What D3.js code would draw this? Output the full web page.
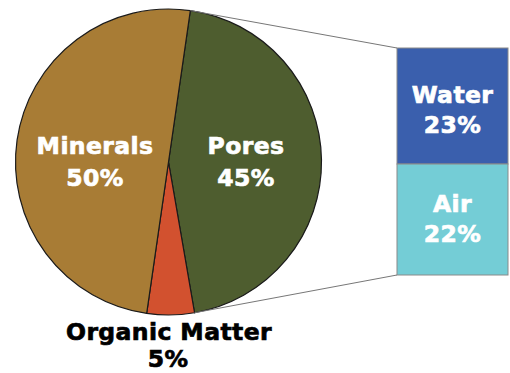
<!DOCTYPE html>
<html>
<head>
<meta charset="utf-8">
<script src="https://cdn.jsdelivr.net/npm/d3@7"></script>
<style>
  html, body { margin: 0; padding: 0; background: #fff; }
  svg { display: block; }
  text { font-family: "DejaVu Sans", sans-serif; font-weight: bold; }
</style>
</head>
<body>
<svg id="chart" width="510" height="373"></svg>
<script>
// Soil composition: pie of the main parts, with the pore space broken down in a stacked bar
const pieLabels = ["Pores", "Organic Matter", "Minerals"];
const pieValues = [45, 5, 50];
const pieColors = ["#4e5d2f", "#d2512f", "#a87c35"];

const barLabels = ["Water", "Air"];
const barValues = [23, 22];
const barColors = ["#3a5fad", "#74cdd6"];

const svg = d3.select("#chart");
const cx = 168.5, cy = 162, r = 153;
const start = 8.2 * Math.PI / 180;

const pie = d3.pie().sort(null).value(d => d.v)
  .startAngle(start).endAngle(start + 2 * Math.PI);
const arcs = pie(pieLabels.map((l, i) => ({ l, v: pieValues[i], c: pieColors[i] })));
const arc = d3.arc().innerRadius(0).outerRadius(r);

const g = svg.append("g").attr("transform", `translate(${cx},${cy})`);
g.selectAll("path").data(arcs).enter().append("path")
  .attr("d", arc)
  .attr("fill", d => d.data.c)
  .attr("stroke", "#1a1a1a")
  .attr("stroke-width", 1.2);

// Stacked bar for the pore breakdown
const barX = 397, barW = 111;
const y = d3.scaleLinear().domain([0, d3.sum(barValues)]).range([48, 275]);
let acc = 0;
const stack = barValues.map((v, i) => {
  const s = { l: barLabels[i], v, c: barColors[i], y0: acc, y1: acc + v };
  acc += v;
  return s;
});
svg.selectAll("rect.seg").data(stack).enter().append("rect")
  .attr("class", "seg")
  .attr("x", barX).attr("width", barW)
  .attr("y", d => y(d.y0)).attr("height", d => y(d.y1) - y(d.y0))
  .attr("fill", d => d.c)
  .attr("stroke", "#8a8a8a").attr("stroke-width", 1);

// Connector lines from the Pores slice edges to the bar
const poresArc = arcs[0];
const edge = a => [cx + r * Math.sin(a), cy - r * Math.cos(a)];
const p0 = edge(poresArc.startAngle), p1 = edge(poresArc.endAngle);
svg.append("line").attr("x1", p0[0]).attr("y1", p0[1]).attr("x2", barX).attr("y2", y(0))
  .attr("stroke", "#777").attr("stroke-width", 1);
svg.append("line").attr("x1", p1[0]).attr("y1", p1[1]).attr("x2", barX).attr("y2", y(acc))
  .attr("stroke", "#777").attr("stroke-width", 1);

// Labels (thin same-colour stroke for a heavier weight)
function label(x, yb, s, size, fill) {
  svg.append("text").attr("text-anchor", "middle").attr("fill", fill)
    .attr("stroke", fill).attr("stroke-width", 0.7)
    .attr("letter-spacing", 0.4)
    .style("font-size", size + "px")
    .attr("x", x).attr("y", yb).text(s);
}
const pct = v => v + "%";
label(95, 154, pieLabels[2], 23.5, "#fff");
label(95, 186, pct(pieValues[2]), 23.5, "#fff");
label(246, 154, pieLabels[0], 23.5, "#fff");
label(246, 186, pct(pieValues[0]), 23.5, "#fff");
label(169, 340, pieLabels[1], 23.5, "#000");
label(168, 367, pct(pieValues[1]), 23.5, "#000");
label(barX + barW / 2, 103, stack[0].l, 23.5, "#fff");
label(barX + barW / 2, 133, pct(stack[0].v), 23.5, "#fff");
label(barX + barW / 2, 212, stack[1].l, 23.5, "#fff");
label(barX + barW / 2, 242, pct(stack[1].v), 23.5, "#fff");
</script>
</body>
</html>
